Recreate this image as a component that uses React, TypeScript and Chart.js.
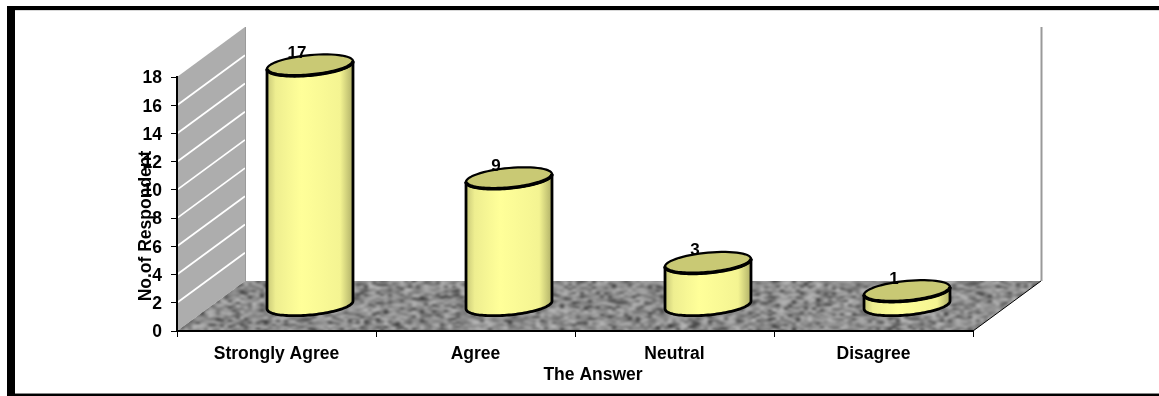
import React, { useEffect, useRef } from "react";
import { Chart, registerables } from "chart.js";

Chart.register(...registerables);

const categories = ["Strongly Agree", "Agree", "Neutral", "Disagree"];
const respondents = [17, 9, 3, 1];
const yTicks = [0, 2, 4, 6, 8, 10, 12, 14, 16, 18];
const yTitle = "No.of Respondent";
const xTitle = "The Answer";

const FONT = '"Liberation Sans", Arial, sans-serif';
const DEPTH_X = 68;
const DEPTH_Y = 50;

function makeFloorPattern(ctx: CanvasRenderingContext2D) {
  const fine = document.createElement("canvas");
  fine.width = 300;
  fine.height = 120;
  const f = fine.getContext("2d")!;
  const img = f.createImageData(300, 120);
  let seed = 12345;
  const next = () => {
    seed = (seed * 1103515245 + 12345) & 0x7fffffff;
    return seed / 0x7fffffff;
  };
  for (let i = 0; i < img.data.length; i += 4) {
    const r = next();
    const g = r < 0.12 ? 45 + next() * 40 : 105 + next() * 85;
    img.data[i] = g;
    img.data[i + 1] = g;
    img.data[i + 2] = g;
    img.data[i + 3] = 255;
  }
  f.putImageData(img, 0, 0);
  const coarse = document.createElement("canvas");
  coarse.width = 1200;
  coarse.height = 400;
  const c = coarse.getContext("2d")!;
  c.imageSmoothingEnabled = true;
  (c as any).filter = "blur(0.8px)";
  c.drawImage(fine, 0, 0, 1200, 240);
  c.drawImage(fine, 0, 240, 1200, 240);
  return ctx.createPattern(coarse, "repeat")!;
}

function cylinderPath(
  ctx: CanvasRenderingContext2D,
  cx: number,
  cy: number,
  a: number,
  b: number,
  k: number,
  from: number,
  to: number,
  move = true,
) {
  const steps = 60;
  for (let i = 0; i <= steps; i++) {
    const t = from + ((to - from) * i) / steps;
    const x = cx + a * Math.cos(t);
    const y = cy + b * Math.sin(t) - k * a * Math.cos(t);
    if (i === 0 && move) ctx.moveTo(x, y);
    else ctx.lineTo(x, y);
  }
}

const scenePlugin = {
  id: "scene3d",
  beforeDraw(chart: any) {
    const { ctx, scales } = chart;
    const x = scales.x;
    const y = scales.y;
    const L = x.left;
    const R = x.right;
    const B = y.bottom;
    const T = y.top;
    ctx.save();
    ctx.fillStyle = "#ffffff";
    ctx.fillRect(0, 0, chart.width, chart.height);

    // outer frame: top, left and bottom only, running off the right edge
    ctx.fillStyle = "#d8d8d8";
    ctx.fillRect(15, 10, chart.width - 15, 1);
    ctx.fillStyle = "#888888";
    ctx.fillRect(15, 393, chart.width - 15, 1);
    ctx.fillStyle = "#000000";
    ctx.fillRect(7, 6, chart.width - 7, 4);
    ctx.fillRect(7, 6, 8, 390);
    ctx.fillRect(7, 394, chart.width - 7, 2);

    // side wall
    ctx.fillStyle = "#adadad";
    ctx.beginPath();
    ctx.moveTo(L, B);
    ctx.lineTo(L, T);
    ctx.lineTo(L + DEPTH_X, T - DEPTH_Y);
    ctx.lineTo(L + DEPTH_X, B - DEPTH_Y);
    ctx.closePath();
    ctx.fill();
    ctx.strokeStyle = "#ffffff";
    ctx.lineWidth = 1.8;
    for (const v of yTicks) {
      if (v === 0 || v === 18) continue;
      const py = y.getPixelForValue(v);
      ctx.beginPath();
      ctx.moveTo(L, py);
      ctx.lineTo(L + DEPTH_X, py - DEPTH_Y);
      ctx.stroke();
    }
    ctx.strokeStyle = "#9a9a9a";
    ctx.lineWidth = 1;
    ctx.beginPath();
    ctx.moveTo(L + DEPTH_X + 0.5, T - DEPTH_Y);
    ctx.lineTo(L + DEPTH_X + 0.5, B - DEPTH_Y);
    ctx.stroke();

    // back wall right edge
    ctx.strokeStyle = "#999999";
    ctx.lineWidth = 2;
    ctx.beginPath();
    ctx.moveTo(R + DEPTH_X + 0.5, T - DEPTH_Y);
    ctx.lineTo(R + DEPTH_X + 0.5, B - DEPTH_Y);
    ctx.stroke();

    // floor
    ctx.fillStyle = makeFloorPattern(ctx);
    ctx.beginPath();
    ctx.moveTo(L, B);
    ctx.lineTo(L + DEPTH_X, B - DEPTH_Y);
    ctx.lineTo(R + DEPTH_X, B - DEPTH_Y);
    ctx.lineTo(R, B);
    ctx.closePath();
    ctx.fill();
    ctx.strokeStyle = "#000000";
    ctx.lineWidth = 1;
    ctx.beginPath();
    ctx.moveTo(R, B);
    ctx.lineTo(R + DEPTH_X, B - DEPTH_Y);
    ctx.stroke();
    ctx.restore();
  },
  afterDatasetsDraw(chart: any) {
    const { ctx, scales } = chart;
    const y = scales.y;
    const meta = chart.getDatasetMeta(0);
    const k = 0.09;
    const b = 10;
    meta.data.forEach((bar: any, i: number) => {
      const a = bar.width / 2;
      const cx = bar.x + DEPTH_X / 2 - 0.5;
      const topY = y.getPixelForValue(respondents[i]) - DEPTH_Y / 2 - 1;
      const baseY = y.getPixelForValue(0) - DEPTH_Y / 2 - 1;
      ctx.save();
      const grad = ctx.createLinearGradient(cx - a, 0, cx + a, 0);
      grad.addColorStop(0, "#c8c878");
      grad.addColorStop(0.1, "#eeee90");
      grad.addColorStop(0.4, "#ffff99");
      grad.addColorStop(0.85, "#f4f492");
      grad.addColorStop(1, "#b0b068");
      ctx.beginPath();
      cylinderPath(ctx, cx, baseY, a, b, k, 0, Math.PI);
      cylinderPath(ctx, cx, topY, a, b, k, Math.PI, 0, false);
      ctx.closePath();
      ctx.fillStyle = grad;
      ctx.fill();
      ctx.strokeStyle = "#000000";
      ctx.lineWidth = 2.8;
      ctx.lineJoin = "round";
      ctx.stroke();

      ctx.beginPath();
      cylinderPath(ctx, cx, topY, a, b, k, 0, Math.PI * 2);
      ctx.closePath();
      ctx.fillStyle = "#c9c974";
      ctx.fill();
      ctx.lineWidth = 2.2;
      ctx.stroke();
      ctx.beginPath();
      cylinderPath(ctx, cx, topY, a, b, k, 0, Math.PI);
      ctx.lineWidth = 3.6;
      ctx.stroke();

      ctx.fillStyle = "#000000";
      ctx.font = `bold 17px ${FONT}`;
      ctx.textAlign = "center";
      ctx.textBaseline = "middle";
      ctx.fillText(String(respondents[i]), cx - 13, topY - 12);
      ctx.restore();
    });
  },
  afterDraw(chart: any) {
    const { ctx } = chart;
    ctx.save();
    ctx.fillStyle = "#000000";
    ctx.font = `bold 17.5px ${FONT}`;
    ctx.textAlign = "center";
    ctx.textBaseline = "middle";
    ctx.fillText(xTitle, 593, 375);
    ctx.translate(146, 226);
    ctx.rotate(-Math.PI / 2);
    ctx.fillText(yTitle, 0, 0);
    ctx.restore();
  },
};

export default function App() {
  const ref = useRef<HTMLCanvasElement>(null);
  useEffect(() => {
    const chart = new Chart(ref.current!, {
      type: "bar",
      data: {
        labels: categories,
        datasets: [
          {
            data: respondents,
            backgroundColor: "rgba(0,0,0,0)",
            borderWidth: 0,
            barPercentage: 0.432,
            categoryPercentage: 1,
          },
        ],
      },
      options: {
        responsive: false,
        animation: false,
        layout: { padding: { left: 130, right: 186, top: 77, bottom: 0 } },
        plugins: { legend: { display: false }, tooltip: { enabled: false } },
        scales: {
          x: {
            afterFit(s: any) {
              s.height = 65;
            },
            grid: {
              offset: true,
              drawOnChartArea: false,
              drawTicks: true,
              tickLength: 6,
              tickColor: "#000000",
              tickWidth: 1,
            },
            border: { color: "#000000", width: 2 },
            ticks: {
              color: "#000000",
              font: { family: FONT, size: 17.5, weight: "bold" },
              padding: 7,
              maxRotation: 0,
            },
          },
          y: {
            min: 0,
            max: 18,
            afterFit(s: any) {
              s.width = 47;
            },
            afterBuildTicks(s: any) {
              s.ticks = yTicks.map((value) => ({ value }));
            },
            grid: {
              drawOnChartArea: false,
              drawTicks: true,
              tickLength: 6,
              tickColor: "#000000",
              tickWidth: 1,
            },
            border: { color: "#000000", width: 2 },
            ticks: {
              color: "#000000",
              font: { family: FONT, size: 17.5, weight: "bold" },
              padding: 9,
              labelOffset: 1.5,
            },
          },
        },
      },
      plugins: [scenePlugin],
    } as any);
    return () => chart.destroy();
  }, []);
  return (
    <div style={{ position: "fixed", left: 0, top: 0, width: 1159, height: 396, background: "#fff" }}>
      <canvas ref={ref} width={1159} height={396} style={{ display: "block" }} />
    </div>
  );
}
